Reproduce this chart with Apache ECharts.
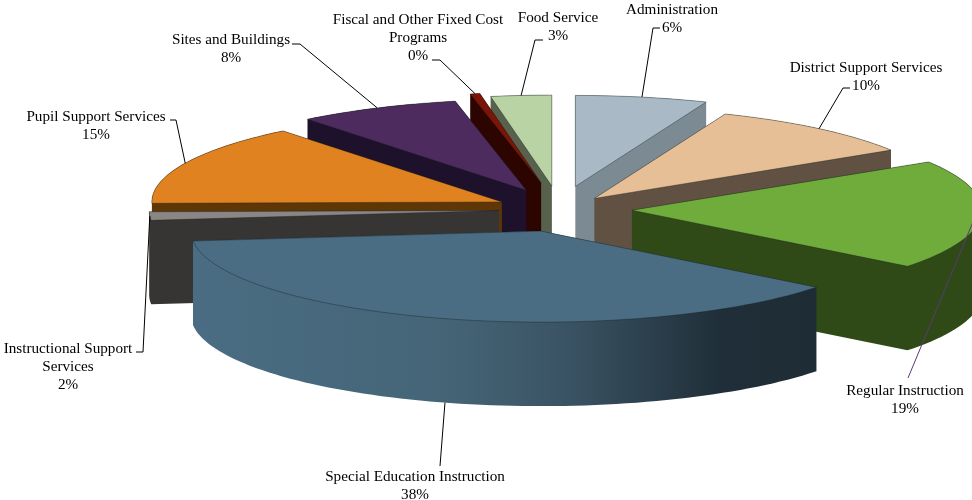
<!DOCTYPE html>
<html lang="en">
<head>
	<meta charset="UTF-8">
	<title>Expenditures by function</title>
	<script src="https://cdn.jsdelivr.net/npm/echarts@6/dist/echarts.min.js"></script>
	<style>
		html, body { margin: 0; padding: 0; background: #fff; }
		#main { width: 972px; height: 500px; }
	</style>
</head>
<body>
	<div id="main"></div>

	<script>
		// data, clockwise from 12 o'clock
		var names = ['Administration', 'District Support Services', 'Regular Instruction', 'Special Education Instruction',
			'Instructional Support\nServices', 'Pupil Support Services', 'Sites and Buildings',
			'Fiscal and Other Fixed Cost\nPrograms', 'Food Service'];
		var shares = [6.1, 10.0, 19.49, 37.7, 1.5, 14.5, 7.5, 0.45, 2.8];
		var percentLabels = ['6%', '10%', '19%', '38%', '2%', '15%', '8%', '0%', '3%'];

		// colours
		var topColors = ['#a9bac6', '#e6bf97', '#70ac3c', '#4a6d83', '#8a8683', '#df821f', '#4e2b5e', '#7c1407', '#b9d3a4'];
		var sideColors = ['#7c8a93', '#615142', '#2f4a17', '#1e2c35', '#373533', '#5f3707', '#1e112b', '#2d0500', '#57614c'];

		// back to front
		var drawOrder = [0, 8, 7, 6, 5, 4, 1, 2, 3];
		// how far each slice is pulled out, sideways and up/down
		var explodeX = [1, 0.72, 1, 1.1, 0.9, 0.95, 1.2, 1.58, 1.65];
		var explodeY = [1, 0.6, 1, 1, 1, 0.72, 0.9, 1.15, 1];

		// label layout: text centre x, text top y, elbow of the leader line
		var labelX = [672, 866, 905, 415, 68, 96, 231, 418, 558];
		var labelY = [1, 59, 382, 468, 340, 108, 31, 11, 9];
		var elbows = [
			[[653, 28], [660, 28]],
			[[843, 88], [850, 88]],
			[[908, 378]],
			[[440, 466]],
			[[143, 352], [136, 352]],
			[[176, 120], [170, 120]],
			[[300, 44], [292, 44]],
			[[440, 60], [432, 60]],
			[[535, 40], [543, 40]]
		];
		var leaderColors = ['#000', '#000', '#5b3a76', '#000', '#000', '#000', '#000', '#000', '#000'];
		var leaderDrop = [0, 0, -0.16, 1, 0, 0, 0, 0, 0];

		var cx = 562, cy = 209, rx = 350, ry = 91, depth = 84;
		var pullX = 70, pullY = 23;

		var total = 0;
		shares.forEach(function (v) { total += v; });
		var startAngles = [];
		var run = 0;
		shares.forEach(function (v) {
			startAngles.push(run / total * Math.PI * 2);
			run += v;
		});

		function apexOf(i) {
			var mid = startAngles[i] + shares[i] / total * Math.PI;
			return [cx + pullX * explodeX[i] * Math.sin(mid), cy - pullY * explodeY[i] * Math.cos(mid)];
		}

		function rimPoint(apex, a) {
			return [apex[0] + rx * Math.sin(a), apex[1] - ry * Math.cos(a)];
		}

		function topPoints(i) {
			var apex = apexOf(i);
			var sweep = shares[i] / total * Math.PI * 2;
			var steps = Math.max(2, Math.ceil(sweep / 0.03));
			var pts = [apex];
			for (var k = 0; k <= steps; k++) {
				pts.push(rimPoint(apex, startAngles[i] + sweep * k / steps));
			}
			return pts;
		}

		// outline of the top shape plus the same shape moved down
		function hull(points) {
			var p = points.slice().sort(function (a, b) { return a[0] - b[0] || a[1] - b[1]; });
			function cross(o, a, b) { return (a[0] - o[0]) * (b[1] - o[1]) - (a[1] - o[1]) * (b[0] - o[0]); }
			var lower = [], upper = [];
			p.forEach(function (q) {
				while (lower.length > 1 && cross(lower[lower.length - 2], lower[lower.length - 1], q) <= 0) lower.pop();
				lower.push(q);
			});
			p.reverse().forEach(function (q) {
				while (upper.length > 1 && cross(upper[upper.length - 2], upper[upper.length - 1], q) <= 0) upper.pop();
				upper.push(q);
			});
			lower.pop();
			upper.pop();
			return lower.concat(upper);
		}

		function renderSlice(params, api) {
			var i = api.value(0);
			var top = topPoints(i);
			var all = top.concat(top.map(function (p) { return [p[0], p[1] + depth]; }));
			var sideFill = sideColors[i];
			if (i === 3) {
				// the front slice is shaded left to right
				sideFill = new echarts.graphic.LinearGradient(0, 0, 1, 0, [
					{ offset: 0, color: '#4a6d83' },
					{ offset: 0.4, color: '#456577' },
					{ offset: 0.6, color: '#3a5364' },
					{ offset: 0.85, color: '#1f2e38' },
					{ offset: 1, color: '#1e2c35' }
				]);
			}
			return {
				type: 'group',
				children: [
					{ type: 'polygon', shape: { points: hull(all) }, style: { fill: sideFill } },
					{
						type: 'polygon',
						shape: { points: top },
						style: { fill: topColors[i], stroke: 'rgba(20,30,30,0.55)', lineWidth: 0.7 }
					}
				]
			};
		}

		function renderLabel(params) {
			var i = params.dataIndex;
			var mid = startAngles[i] + shares[i] / total * Math.PI;
			var start = rimPoint(apexOf(i), mid);
			start[1] += leaderDrop[i] * depth;
			return {
				type: 'group',
				children: [
					{
						type: 'polyline',
						shape: { points: [start].concat(elbows[i]) },
						style: { stroke: leaderColors[i], lineWidth: 1, fill: null }
					},
					{
						type: 'text',
						style: {
							text: names[i] + '\n' + percentLabels[i],
							x: labelX[i],
							y: labelY[i],
							fill: '#000',
							font: '15.2px "Liberation Serif"',
							lineHeight: 18,
							align: 'center',
							verticalAlign: 'top'
						}
					}
				]
			};
		}

		var chart = echarts.init(document.getElementById('main'));
		chart.setOption({
			animation: false,
			backgroundColor: '#fff',
			series: [
				{
					type: 'custom',
					coordinateSystem: 'none',
					silent: true,
					z: 2,
					renderItem: renderSlice,
					data: drawOrder
				},
				{
					type: 'custom',
					coordinateSystem: 'none',
					silent: true,
					z: 3,
					renderItem: renderLabel,
					data: shares
				}
			]
		});
	</script>
</body>
</html>
